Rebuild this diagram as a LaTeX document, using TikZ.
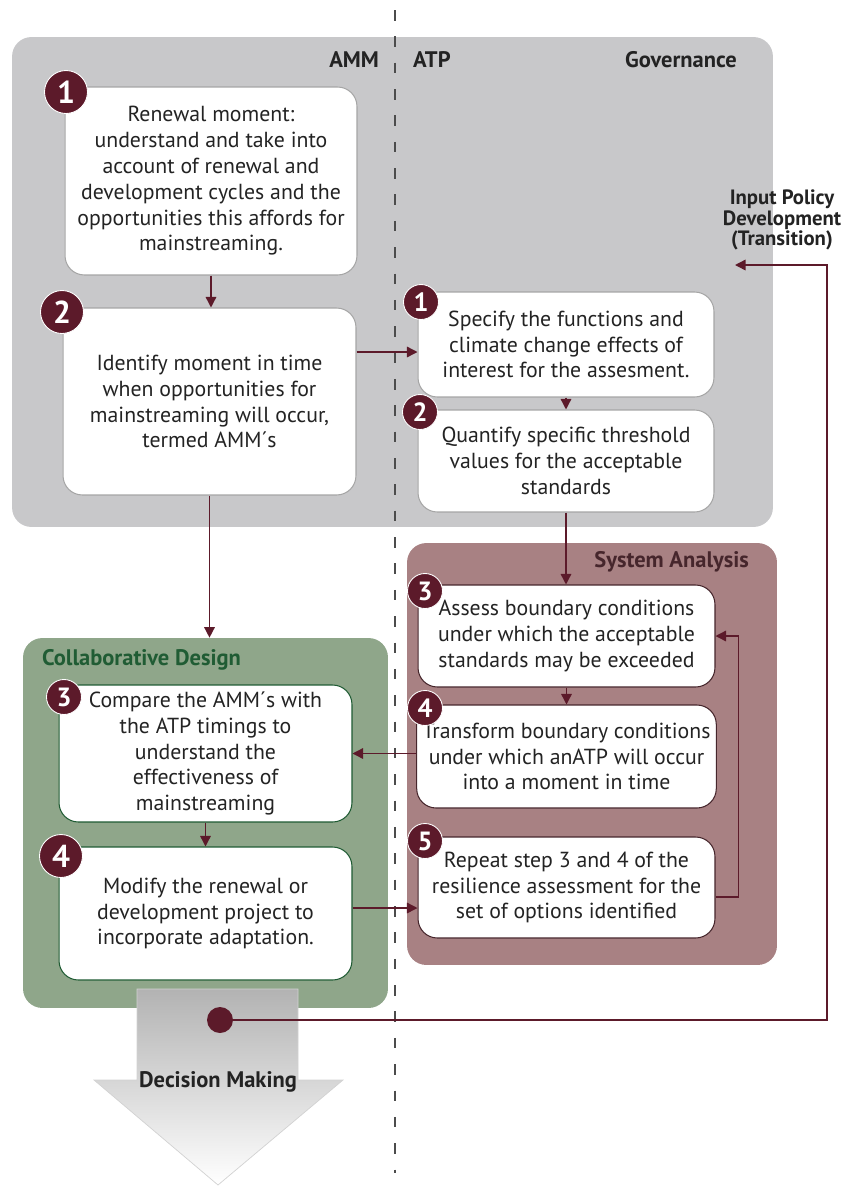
\documentclass[tikz,border=0pt]{standalone}
\usepackage{fontspec}
\setmainfont{PT Sans}
\usetikzlibrary{arrows.meta}
\definecolor{govGray}{RGB}{200,200,202}
\definecolor{sysRose}{RGB}{168,129,131}
\definecolor{collabGreen}{RGB}{143,166,138}
\definecolor{badgeMaroon}{RGB}{92,26,42}
\definecolor{textDark}{RGB}{35,35,35}
\definecolor{designGreen}{RGB}{32,92,52}
\definecolor{sysText}{RGB}{70,38,44}

\begin{document}
\begin{tikzpicture}[x=0.02cm, y=-0.02cm,
    group/.style={rounded corners=11pt, inner sep=0pt},
    stepbox/.style={draw=#1, fill=white, line width=0.6pt, rounded corners=11pt, align=center, text=textDark, font=\fontsize{12.4}{14.7}\selectfont},
    stepbox/.default=gray!70,
    badge/.style={circle, fill=badgeMaroon, draw=white, line width=0.5pt, minimum size=0.7cm, inner sep=0pt, text=white, font=\fontsize{15}{15}\selectfont\bfseries},
    bigbadge/.style={badge, minimum size=0.86cm, font=\fontsize{18}{18}\selectfont\bfseries},
    grouplabel/.style={font=\fontsize{12.8}{13}\selectfont\bfseries, text=textDark, inner sep=1pt},
    arrow/.style={line width=0.8pt, draw=badgeMaroon, -{Triangle[length=6pt, width=6pt]}},
    divider/.style={dash pattern=on 6pt off 9pt, line width=0.8pt, draw=black!70},
    decision/.style={draw=gray!35, top color=gray!60, bottom color=white}
]
    \useasboundingbox (0,0) rectangle (846,1201);

    \node[group, fill=govGray, minimum width=15.22cm, minimum height=9.8cm] (gov) at (392.5,282) {};
    \node[group, fill=sysRose, minimum width=7.4cm, minimum height=8.44cm] (sysana) at (592,754) {};
    \node[group, fill=collabGreen, minimum width=7.3cm, minimum height=7.4cm] (collab) at (205.5,823) {};

    \node[grouplabel, anchor=east] (amm) at (381,60) {AMM};
    \node[grouplabel, anchor=west] (atp) at (411,60) {ATP};
    \node[grouplabel, anchor=east] (govlabel) at (739,60) {Governance};
    \node[grouplabel, anchor=east, text=sysText] (syslabel) at (751,562) {System Analysis};
    \node[grouplabel, anchor=west, text=designGreen] (collablabel) at (40,660) {Collaborative Design};
    \node[grouplabel, align=center, font=\fontsize{11.8}{11.5}\selectfont\bfseries] (policy) at (782,220) {Input Policy\\Development\\(Transition)};

    \draw[divider] (395,10) -- (395,1173);

    \node[stepbox, minimum width=5.84cm, minimum height=3.76cm] (A1) at (211,181) {Renewal moment:\\understand and take into\\account of renewal and\\development cycles and the\\opportunities this affords for\\mainstreaming.};
    \node[stepbox, minimum width=5.86cm, minimum height=3.74cm] (A2) at (209.5,401.5) {Identify moment in time\\when opportunities for\\mainstreaming will occur,\\termed AMM´s};
    \node[stepbox, minimum width=5.92cm, minimum height=2.1cm] (B1) at (566,344.5) {Specify the functions and\\climate change effects of\\interest for the assesment.};
    \node[stepbox, minimum width=5.92cm, minimum height=2.04cm] (B2) at (566,461) {Quantify specific threshold\\values for the acceptable\\standards};
    \node[stepbox=sysText, minimum width=5.94cm, minimum height=2.04cm] (C3) at (566.5,636) {Assess boundary conditions\\under which the acceptable\\standards may be exceeded};
    \node[stepbox=sysText, minimum width=5.94cm, minimum height=2.06cm] (C4) at (566.5,756.5) {Transform boundary conditions\\under which anATP will occur\\into a moment in time};
    \node[stepbox=sysText, minimum width=5.94cm, minimum height=2.02cm] (C5) at (566.5,887.5) {Repeat step 3 and 4 of the\\resilience assessment for the\\set of options identified};
    \node[stepbox=designGreen, minimum width=5.86cm, minimum height=2.74cm] (D3) at (205.5,753.5) {Compare the AMM´s with\\the ATP timings to\\understand the\\effectiveness of\\mainstreaming};
    \node[stepbox=designGreen, minimum width=5.86cm, minimum height=2.66cm] (D4) at (205.5,913.5) {Modify the renewal or\\development project to\\incorporate adaptation.};

    \node[bigbadge] (nA1) at (66,92) {1};
    \node[bigbadge] (nA2) at (62,312) {2};
    \node[badge] (nB1) at (421,302) {1};
    \node[badge] (nB2) at (420,412) {2};
    \node[badge] (nC3) at (425,591) {3};
    \node[badge] (nC4) at (425,708) {4};
    \node[badge] (nC5) at (425,841) {5};
    \node[badge] (nD3) at (64,697) {3};
    \node[bigbadge] (nD4) at (61,856) {4};

    \path ([yshift=-0.15cm]B1.west) coordinate (b1in);
    \path ([yshift=0.11cm]D4.east) coordinate (d4out);

    \draw[arrow] (A1.south) -- (A1.south |- A2.north);
    \draw[arrow] (b1in -| A2.east) -- (b1in);
    \draw[arrow] (B1.south) -- (B1.south |- B2.north);
    \draw[arrow] (A2.south) -- (A2.south |- collab.north);
    \draw[arrow] (B2.south) -- (B2.south |- C3.north);
    \draw[arrow] (C3.south) -- (C3.south |- C4.north);
    \draw[arrow] ([yshift=-0.19cm]C5.east) -- ++(23,0) |- (C3.east);
    \draw[arrow] (C4.west |- D3.east) -- (D3.east);
    \draw[arrow] (D3.south) -- (D3.south |- D4.north);
    \draw[arrow] (d4out) -- (d4out -| C5.west);

    \draw[decision] (137,989) -- (298,989) -- (298,1080) -- (343,1080) -- (218,1185) -- (94,1080) -- (137,1080) -- cycle;
    \node[grouplabel] (decisionlabel) at (218,1082) {Decision Making};

    \node[circle, fill=badgeMaroon, minimum size=0.52cm, inner sep=0pt] (dot) at (220,1020) {};
    \coordinate (turn) at (827,265);
    \coordinate (inpt) at (735,265);
    \draw[arrow] (dot) -| (turn) -- (inpt);
\end{tikzpicture}
\end{document}
